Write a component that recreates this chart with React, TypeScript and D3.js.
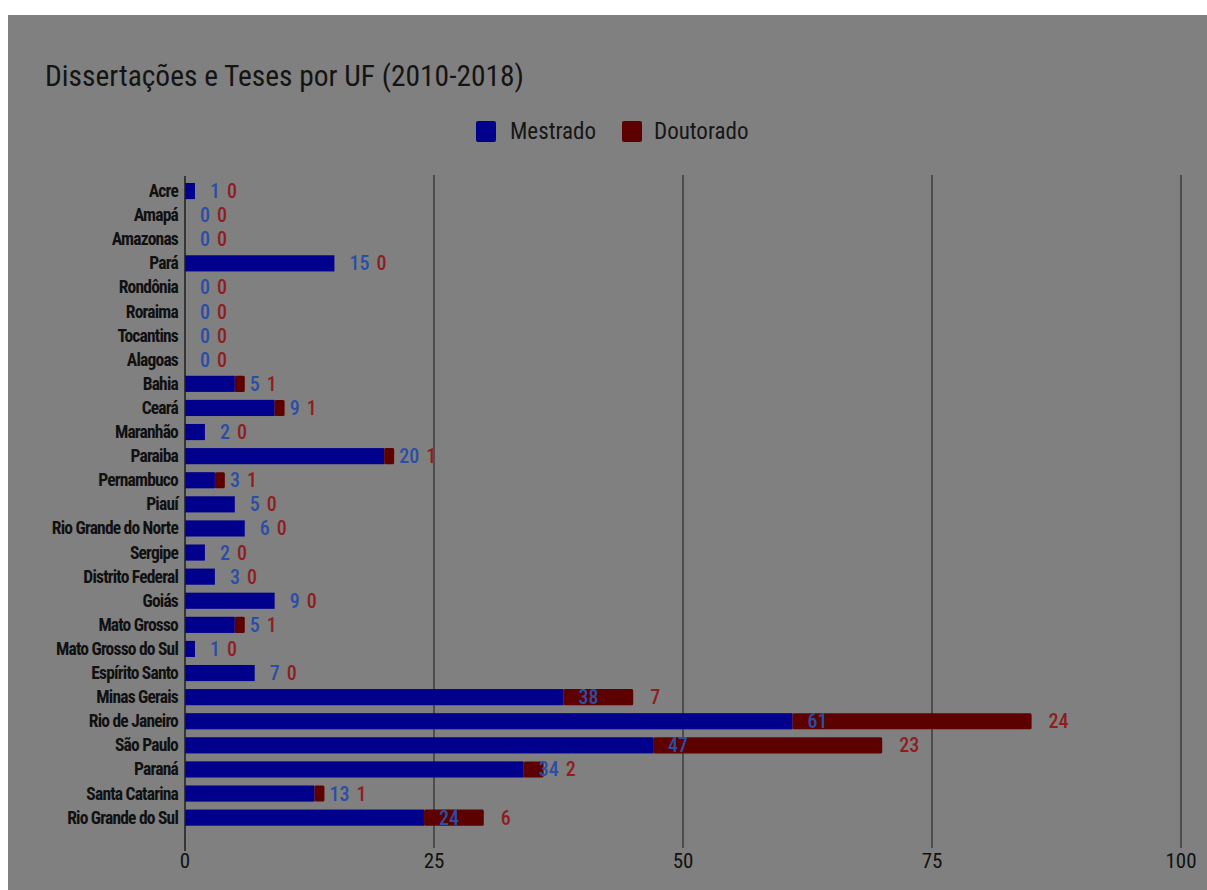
import React from "react";
import * as d3 from "d3";

const categories = [
  "Acre", "Amapá", "Amazonas", "Pará", "Rondônia", "Roraima", "Tocantins", "Alagoas",
  "Bahia", "Ceará", "Maranhão", "Paraiba", "Pernambuco", "Piauí", "Rio Grande do Norte",
  "Sergipe", "Distrito Federal", "Goiás", "Mato Grosso", "Mato Grosso do Sul",
  "Espírito Santo", "Minas Gerais", "Rio de Janeiro", "São Paulo", "Paraná",
  "Santa Catarina", "Rio Grande do Sul",
];
const mestrado = [1, 0, 0, 15, 0, 0, 0, 0, 5, 9, 2, 20, 3, 5, 6, 2, 3, 9, 5, 1, 7, 38, 61, 47, 34, 13, 24];
const doutorado = [0, 0, 0, 0, 0, 0, 0, 0, 1, 1, 0, 1, 1, 0, 0, 0, 0, 0, 1, 0, 0, 7, 24, 23, 2, 1, 6];
const xTicks = [0, 25, 50, 75, 100];
const seriesNames = ["Mestrado", "Doutorado"];

const BG = "#808080";
const BLUE = "#00008c";
const RED = "#5c0000";
const BLUE_TXT = "#2a4ea6";
const RED_TXT = "#8e1e1e";
const FONT = "'Liberation Sans Narrow', 'Roboto Condensed', 'DejaVu Sans Condensed', Roboto, sans-serif";

export default function App() {
  const W = 1207, H = 890;
  const x = d3.scaleLinear().domain([0, 100]).range([185, 1181]);
  const y = d3.scaleBand<string>().domain(categories).range([179, 829.7]).paddingInner(0.33).paddingOuter(0.165);
  const bh = y.bandwidth();
  const charW = 10; // approx digit width for value labels

  return (
    <>
      <style>{"html,body{background:#808080;overflow:hidden}"}</style>
      <svg width={W} height={H} style={{ display: "block", position: "absolute", left: 0, top: 0 }}>
        <rect x={0} y={0} width={W} height={H} fill="#ffffff" />
        <rect x={8} y={15} width={W} height={H} fill={BG} />
        <text x={45} y={86} fontFamily={FONT} fontSize={29} fill="#141414" textLength={479} lengthAdjust="spacingAndGlyphs">
          Dissertações e Teses por UF (2010-2018)
        </text>
        {/* legend */}
        <rect x={476} y={121} width={20} height={21} rx={2} fill={BLUE} />
        <text x={510} y={139} fontFamily={FONT} fontSize={23} fill="#161616">{seriesNames[0]}</text>
        <rect x={622} y={121} width={20} height={21} rx={2} fill={RED} />
        <text x={654} y={139} fontFamily={FONT} fontSize={23} fill="#161616">{seriesNames[1]}</text>

        {/* grid */}
        {xTicks.slice(1).map((t) => (
          <line key={t} x1={x(t)} x2={x(t)} y1={175} y2={848} stroke="#3c3c3c" strokeWidth={1.5} />
        ))}
        {xTicks.map((t) => (
          <text key={"t" + t} x={x(t)} y={868} textAnchor="middle" fontFamily={FONT} fontSize={21} fill="#111">
            {t}
          </text>
        ))}

        {/* bars */}
        {categories.map((c, i) => {
          const yy = y(c)!;
          const m = mestrado[i];
          const d = doutorado[i];
          const bEnd = x(m);
          const tEnd = x(m + d);
          const mStr = String(m);
          const dStr = String(d);
          const bLx = bEnd + 15;
          const rLx = Math.max(bLx + mStr.length * charW + 7, tEnd + 17);
          const cy = yy + bh / 2;
          return (
            <g key={c}>
              <text x={178} y={cy + 6} textAnchor="end" fontFamily={FONT} fontWeight="bold" fontSize={17.5} fill="#111" letterSpacing={-0.8}>
                {c}
              </text>
              {m > 0 && <rect x={x(0)} y={yy} width={bEnd - x(0)} height={bh} fill={BLUE} />}
              {d > 0 && <rect x={bEnd} y={yy} width={tEnd - bEnd} height={bh} rx={1.5} fill={RED} />}
              <text x={bLx} y={cy + 7} fontFamily={FONT} fontWeight={500} fontSize={20} fill={BLUE_TXT}>{mStr}</text>
              <text x={rLx} y={cy + 7} fontFamily={FONT} fontWeight={500} fontSize={20} fill={RED_TXT}>{dStr}</text>
            </g>
          );
        })}
        {/* axis baseline */}
        <line x1={x(0)} x2={x(0)} y1={176} y2={851} stroke="#1e1e1e" strokeWidth={1.5} />
      </svg>
    </>
  );
}
